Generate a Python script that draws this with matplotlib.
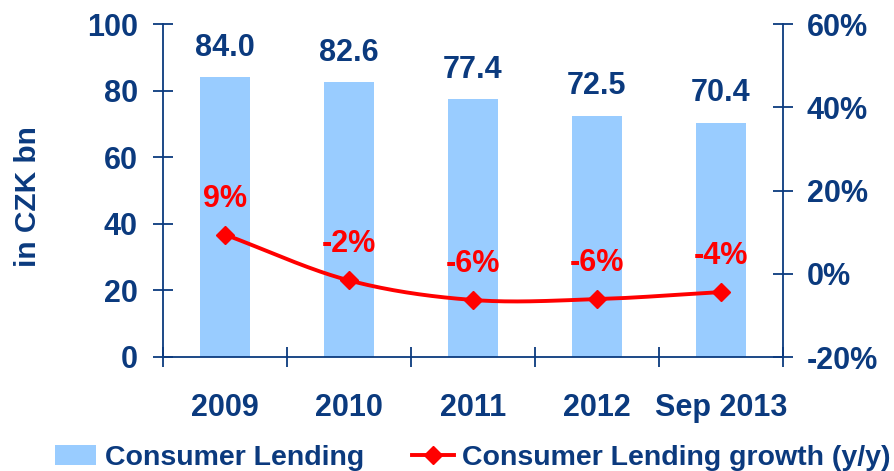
import numpy as np
import matplotlib
matplotlib.use('Agg')
import matplotlib.pyplot as plt
from matplotlib.lines import Line2D
from matplotlib.patches import Patch

categories = ['2009', '2010', '2011', '2012', 'Sep 2013']
lending = [84.0, 82.6, 77.4, 72.5, 70.4]
growth = [9.4, -1.6, -6.3, -6.1, -4.4]
left_ticks = [0, 20, 40, 60, 80, 100]
right_ticks = [-20, 0, 20, 40, 60]

NAVY = '#0B3A7E'
BAR = '#99CCFF'
RED = '#FF0000'
FS = 22

plt.rcParams['font.family'] = ['Liberation Sans', 'DejaVu Sans']
plt.rcParams['font.weight'] = 'bold'

W, H = 894, 471
fig = plt.figure(figsize=(W / 100, H / 100), dpi=100)
ax = fig.add_axes([163 / W, 1 - 357 / H, (783 - 163) / W, (357 - 24) / H])
x = np.arange(len(categories))
ax.bar(x, lending, width=0.41, color=BAR, zorder=1)
ax.set_xlim(-0.5, len(categories) - 0.5)
ax.set_ylim(0, 100)
ax.set_yticks(left_ticks)
ax.set_yticklabels([str(t) for t in left_ticks])
ax.tick_params(axis='y', direction='inout', length=14.4, width=1.3, color=NAVY,
               labelcolor=NAVY, labelsize=FS, pad=11)

# x ticks: marks at category boundaries, labels at centers
ax.set_xticks(np.arange(len(categories) + 1) - 0.5)
ax.set_xticklabels([''] * (len(categories) + 1))
ax.set_xticks(x, minor=True)
ax.set_xticklabels(categories, minor=True)
ax.tick_params(axis='x', which='major', direction='inout', length=14.4, width=1.3, color=NAVY)
ax.tick_params(axis='x', which='minor', length=0, pad=26, labelsize=FS, labelcolor=NAVY)
for lbl in ax.get_xticklabels(minor=True):
    lbl.set_fontweight('bold')
for lbl in ax.get_yticklabels():
    lbl.set_fontweight('bold')

for side in ['left', 'bottom']:
    ax.spines[side].set_color(NAVY)
    ax.spines[side].set_linewidth(1.3)
ax.spines['top'].set_visible(False)
ax.spines['right'].set_visible(False)

for i, v in enumerate(lending):
    ax.annotate(f'{v:.1f}', (i, v), xytext=(0, 21), textcoords='offset points',
                ha='center', va='center', fontsize=FS, fontweight='bold', color=NAVY)

ax2 = ax.twinx()
ax2.set_ylim(-20, 60)
ax2.set_yticks(right_ticks)
ax2.set_yticklabels([f'{t}%' for t in right_ticks])
ax2.tick_params(axis='y', direction='inout', length=14.4, width=1.3, color=NAVY,
                labelcolor=NAVY, labelsize=FS, pad=10)
for lbl in ax2.get_yticklabels():
    lbl.set_fontweight('bold')
for side in ['left', 'top', 'bottom']:
    ax2.spines[side].set_visible(False)
ax2.spines['right'].set_color(NAVY)
ax2.spines['right'].set_linewidth(1.3)

# smooth (Catmull-Rom) curve through the growth points
px = np.array(x, dtype=float)
py = np.array(growth, dtype=float)
ext_x = np.concatenate([[2 * px[0] - px[1]], px, [2 * px[-1] - px[-2]]])
ext_y = np.concatenate([[2 * py[0] - py[1]], py, [2 * py[-1] - py[-2]]])
cx, cy = [], []
t = np.linspace(0, 1, 40)
for k in range(1, len(ext_x) - 2):
    p0, p1, p2, p3 = [np.array([ext_x[j], ext_y[j]]) for j in range(k - 1, k + 3)]
    seg = 0.5 * ((2 * p1)[:, None] + (-p0 + p2)[:, None] * t
                 + (2 * p0 - 5 * p1 + 4 * p2 - p3)[:, None] * t ** 2
                 + (-p0 + 3 * p1 - 3 * p2 + p3)[:, None] * t ** 3)
    cx.extend(seg[0]); cy.extend(seg[1])
ax2.plot(cx, cy, color=RED, lw=2.8, zorder=3, solid_capstyle='round')
ax2.plot(px, py, linestyle='none', marker='D', markersize=9.5, color=RED, zorder=4)

for i, v in enumerate(growth):
    ax2.annotate(f'{v:.0f}%', (i, v), xytext=(0, 26), textcoords='offset points',
                 ha='center', va='center', fontsize=FS, fontweight='bold', color=RED)

fig.text(28 / W, 1 - 197 / H, 'in CZK bn', rotation=90, ha='center', va='center',
         fontsize=21.5, fontweight='bold', color=NAVY)

handles = [Patch(facecolor=BAR, edgecolor='none'),
           Line2D([], [], color=RED, lw=2.8, marker='D', markersize=9.5)]
leg = fig.legend(handles, ['Consumer Lending', 'Consumer Lending growth (y/y)'],
                 loc='center left', bbox_to_anchor=(55 / W, 1 - 458 / H), ncol=2,
                 frameon=False, borderpad=0, borderaxespad=0,
                 handlelength=1.45, handletextpad=0.3, columnspacing=1.7,
                 prop={'weight': 'bold', 'size': 20.5})
for txt in leg.get_texts():
    txt.set_color(NAVY)

fig.savefig('out.png', dpi=100)
